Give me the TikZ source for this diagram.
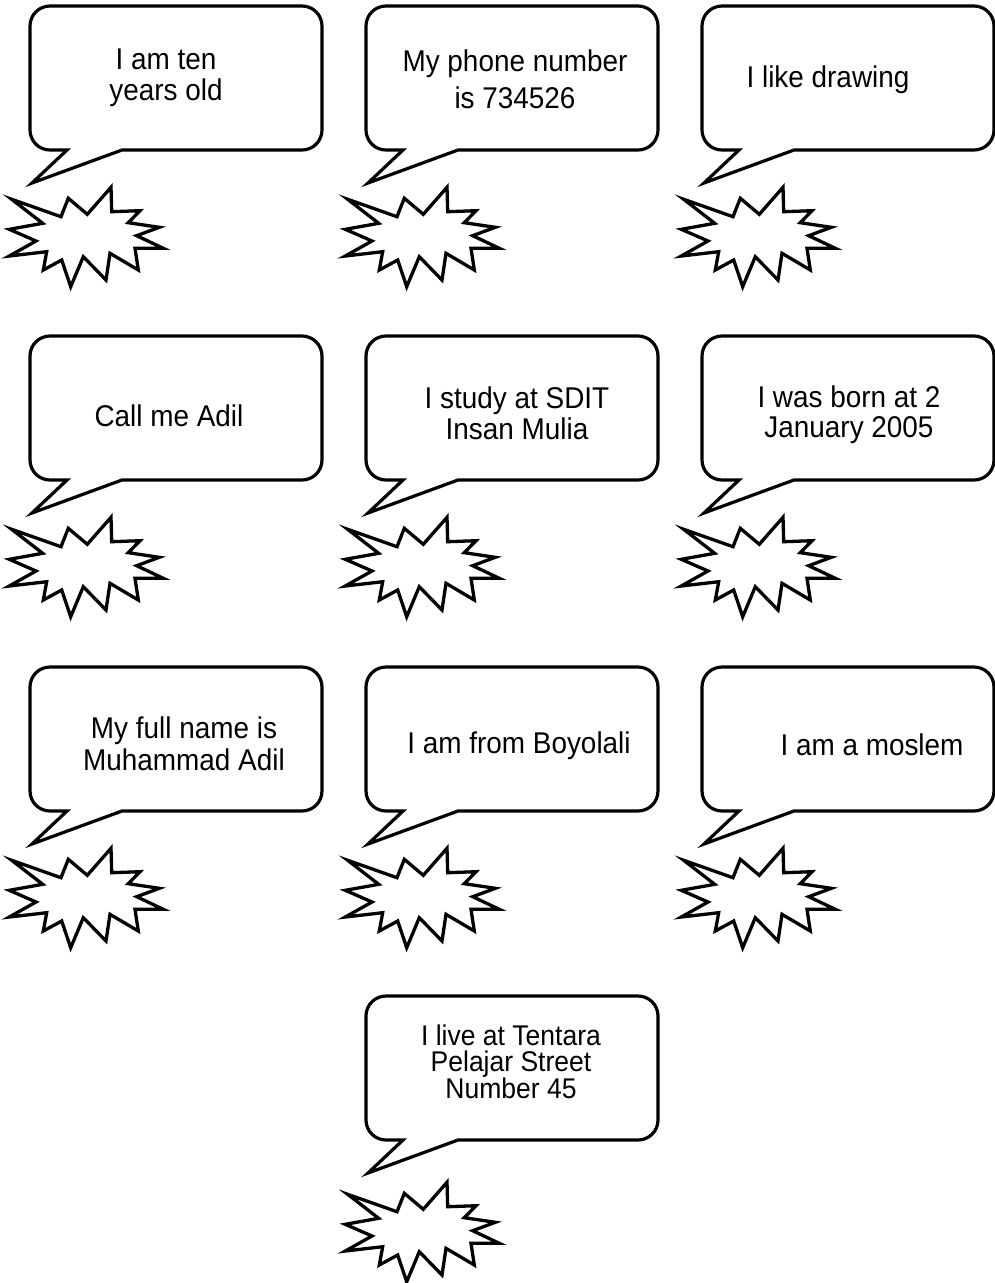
\documentclass[tikz,border=0pt]{standalone}
\usepackage{fontspec}
\setmainfont[FakeStretch=0.93]{Liberation Sans}
\tikzset{
  bubble/.style={draw=black, line width=3.2pt, fill=white, line join=miter},
  burst/.style={draw=black, line width=3.3pt, fill=white, line join=miter},
  saytext/.style={font=\fontsize{30}{31}\selectfont, align=center, anchor=base, inner sep=0pt, text=black}
}
\newcommand\sayshape[2]{%
  \begin{scope}[shift={(#1,-#2)}]
    \draw[bubble] (67,-150) -- (32,-183) -- (122,-150) -- (302,-150)
      arc[start angle=-90, end angle=0, radius=20] -- (322,-26)
      arc[start angle=0, end angle=90, radius=20] -- (50,-6)
      arc[start angle=90, end angle=180, radius=20] -- (30,-130)
      arc[start angle=180, end angle=270, radius=20] -- cycle;
  \end{scope}}
\newcommand\burstshape[2]{%
  \begin{scope}[shift={(#1,-#2)}]
    \draw[burst] (11.7,-199.3) -- (61,-216.7) -- (68.3,-198.3) -- (87.3,-214.3)
      -- (111,-187.3) -- (111.7,-211.7) -- (140,-210.7) -- (128.3,-222.7)
      -- (159.3,-227.3) -- (136.7,-235.7) -- (163.3,-248.3) -- (135,-248.3)
      -- (138.3,-270) -- (110,-253.3) -- (106,-280) -- (83.3,-256.7)
      -- (70.7,-286.7) -- (61.7,-260) -- (43.3,-270) -- (46.7,-251.7)
      -- (9.3,-256) -- (36,-241) -- (9.3,-229.3) -- (42.7,-223.3) -- cycle;
  \end{scope}}
\begin{document}
\begin{tikzpicture}[x=1pt, y=1pt]
  \useasboundingbox (0,0) rectangle (995,-1283);
  % bubbles
  \sayshape{0}{0}\burstshape{0}{0}
  \sayshape{336}{0}\burstshape{336}{0}
  \sayshape{672}{0}\burstshape{672}{0}
  \sayshape{0}{330}\burstshape{0}{330}
  \sayshape{336}{330}\burstshape{336}{330}
  \sayshape{672}{330}\burstshape{672}{330}
  \sayshape{0}{661}\burstshape{0}{661}
  \sayshape{336}{661}\burstshape{336}{661}
  \sayshape{672}{661}\burstshape{672}{661}
  \sayshape{336}{990}\burstshape{336}{995}
  % texts (base anchor = last line's baseline)
  \node[saytext] (t1) at (166,-100) {I am ten\\years old};
  \node[saytext] (t2) at (515,-108) {My phone number\\[6pt]is 734526};
  \node[saytext] (t3) at (828,-87) {I like drawing};
  \node[saytext] (t4) at (169,-426) {Call me Adil};
  \node[saytext] (t5) at (517,-439) {I study at SDIT\\Insan Mulia};
  \node[saytext] (t6) at (849,-437) {I was born at 2\\[-1pt]January 2005};
  \node[saytext] (t7) at (184,-770) {My full name is\\[1pt]Muhammad Adil};
  \node[saytext] (t8) at (519,-753) {I am from Boyolali};
  \node[saytext] (t9) at (872,-755) {I am a moslem};
  \node[saytext, font=\fontsize{28.5}{31}\selectfont] (t10) at (511,-1098) {I live at Tentara\\[-4.5pt]Pelajar Street\\[-4.5pt]Number 45};
\end{tikzpicture}
\end{document}
